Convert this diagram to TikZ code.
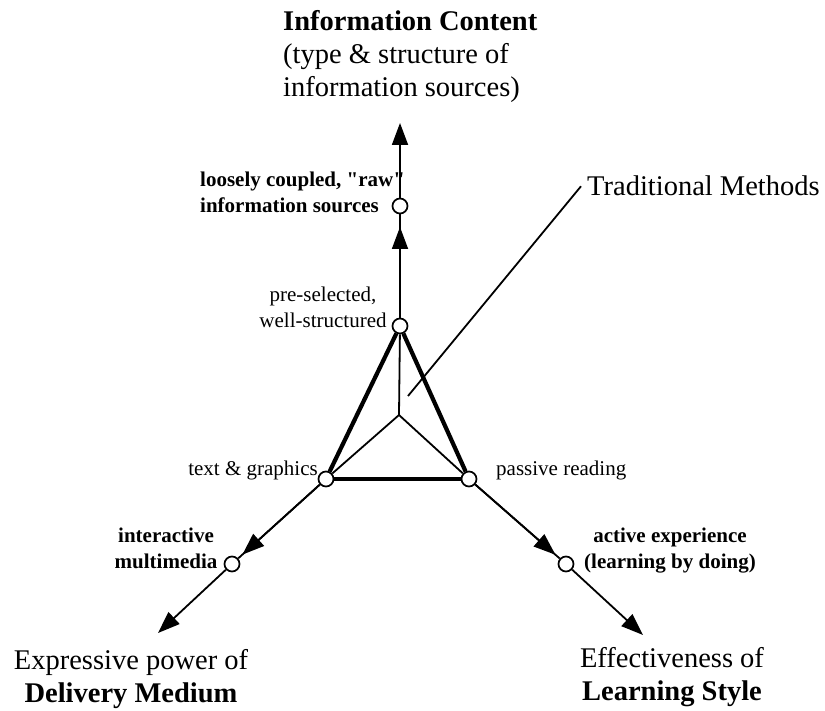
\documentclass[tikz,border=0pt]{standalone}
\usepackage{fontspec}
\setmainfont{Liberation Serif}[Ligatures=TeXOff]
\usetikzlibrary{arrows.meta,calc}
\begin{document}
\begin{tikzpicture}[x=1pt,y=-1pt,
  pt/.style={circle,draw,fill=white,line width=1.7pt,minimum size=15pt,inner sep=0pt},
  thinl/.style={line width=1.8pt},
  thickl/.style={line width=4.2pt},
  arr/.style={-{Triangle[length=22pt,width=16pt]}},
  big/.style={font=\fontsize{28.5}{33}\selectfont,inner sep=0pt},
  small/.style={font=\fontsize{21}{26}\selectfont,inner sep=0pt},
  smallb/.style={font=\fontsize{21}{26}\selectfont\bfseries,inner sep=0pt}]
\useasboundingbox (0,0) rectangle (825,711);
% points
\coordinate (C) at (399,415);
\node[pt] (T1) at (400,326) {};
\node[pt] (T2) at (400,206) {};
\node[pt] (L1) at (326,479) {};
\node[pt] (R1) at (469,479) {};
\node[pt] (L2) at (232,564) {};
\node[pt] (R2) at (566,564) {};
\coordinate (Ttip) at (400,123);
\coordinate (Ltip) at (158,633);
\coordinate (Rtip) at (643,635);
\coordinate (lead) at (408,396);
% inner triangle
\draw[thinl] (T1) -- (C);
\draw[thinl] (C) -- (L1);
\draw[thinl] (C) -- (R1);
% thick triangle
\draw[thickl] (T1) -- (L1);
\draw[thickl] (L1) -- (R1);
\draw[thickl] (R1) -- (T1);
% axes
\draw[thinl] (T1) -- (T2);
\draw[thinl,arr] (T1) -- ($(T2)!21pt!(T1)$);
\draw[thinl,arr] (T2) -- (Ttip);
\draw[thinl] (L1) -- (L2);
\draw[thinl,arr] (L1) -- ($(L2)!14pt!(L1)$);
\draw[thinl,arr] (L2) -- (Ltip);
\draw[thinl] (R1) -- (R2);
\draw[thinl,arr] (R1) -- ($(R2)!14pt!(R1)$);
\draw[thinl,arr] (R2) -- (Rtip);
% labels (base anchor = baseline of last line)
\node[big,align=left,anchor=base west] (title) at (283,97)
  {\textbf{Information Content}\\(type \& structure of\\information sources)};
\node[big,anchor=base west,inner xsep=6pt] (tm) at (581,196) {Traditional Methods};
\draw[thinl] (lead) -- (tm.west);
\node[smallb,align=left,anchor=base west] (loose) at (200,213)
  {loosely coupled, "raw"\\information sources};
\node[small,align=center,anchor=base] (presel) at (323,328)
  {pre-selected,\\well-structured};
\node[small,anchor=base east] (textg) at (318,475) {text \& graphics};
\node[small,anchor=base west] (passive) at (496,475) {passive reading};
\node[smallb,align=center,anchor=base] (inter) at (166,568)
  {interactive\\multimedia};
\node[smallb,align=center,anchor=base] (active) at (670,568)
  {active experience\\(learning by doing)};
\node[big,align=center,anchor=base] (deliv) at (131,702)
  {Expressive power of\\\textbf{Delivery Medium}};
\node[big,align=center,anchor=base] (learn) at (672,700)
  {Effectiveness of\\\textbf{Learning Style}};
\end{tikzpicture}
\end{document}
